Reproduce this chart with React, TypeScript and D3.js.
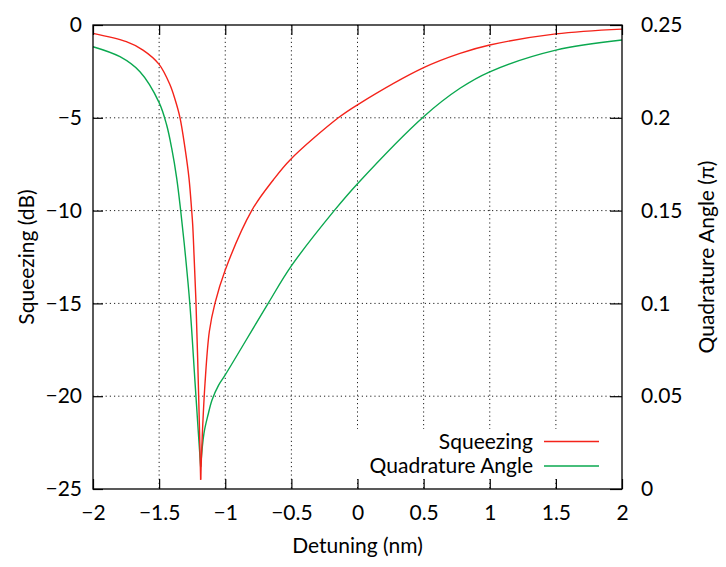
import React, { useEffect, useRef } from "react";
import * as d3 from "d3";

// squeezing (dB) against detuning (nm);
// the curve has a cusp at the minimum, so each side is its own branch
const sqzLeftDetuning = [
  -2.0, -1.748, -1.622, -1.5, -1.418, -1.38, -1.342, -1.304, -1.274, -1.254,
  -1.246, -1.236, -1.222, -1.201, -1.186,
];
const sqzLeftValues = [
  -0.45, -0.9, -1.35, -2.12, -3.22, -4.0, -5.0, -6.65, -8.26, -9.98, -10.78,
  -12.4, -14.8, -20.0, -24.5,
];
const sqzRightDetuning = [
  -1.186, -1.173, -1.153, -1.12, -1.078, -1.0, -0.8, -0.637, -0.51, -0.145,
  0.0, 0.5, 0.775, 1.0, 1.5, 2.0,
];
const sqzRightValues = [
  -24.5, -22.0, -19.3, -16.5, -15.0, -13.2, -10.0, -8.35, -7.27, -5.0, -4.3,
  -2.3, -1.53, -1.08, -0.48, -0.22,
];

// quadrature angle (pi) against detuning (nm)
const angLeftDetuning = [
  -2.0, -1.796, -1.645, -1.5, -1.443, -1.405, -1.367, -1.337, -1.3, -1.267,
  -1.229, -1.204, -1.186,
];
const angLeftValues = [
  0.2383, 0.2329, 0.2248, 0.2082, 0.1961, 0.1836, 0.1674, 0.15, 0.125, 0.099,
  0.058, 0.031, 0.012,
];
const angRightDetuning = [
  -1.186, -1.161, -1.13, -1.1, -1.05, -1.0, -0.68, -0.5, -0.17, 0.0, 0.5,
  0.775, 1.0, 1.5, 2.0,
];
const angRightValues = [
  0.012, 0.03, 0.04, 0.048, 0.056, 0.0615, 0.0995, 0.1202, 0.1505, 0.1645,
  0.2006, 0.2159, 0.2248, 0.2365, 0.2419,
];

const xTicks = [-2, -1.5, -1, -0.5, 0, 0.5, 1, 1.5, 2];
const yTicks = [0, -5, -10, -15, -20, -25];
const y2Ticks = [0, 0.05, 0.1, 0.15, 0.2, 0.25];

const seriesNames = ["Squeezing", "Quadrature Angle"];
const seriesColors = ["#f4231a", "#0aa84f"];

const FONT = "Lato, 'Open Sans', sans-serif";
const FONT_SIZE = 21;
const fmt = (v: number) => String(v).replace("-", "\u2212");

export default function App() {
  const ref = useRef<SVGSVGElement>(null);

  useEffect(() => {
    const width = 726;
    const height = 567;
    const margin = { top: 25, right: 104, bottom: 78, left: 93 };
    const innerWidth = width - margin.left - margin.right;
    const innerHeight = height - margin.top - margin.bottom;

    const svg = d3.select(ref.current);
    svg.selectAll("*").remove();

    const xScale = d3.scaleLinear().domain([-2, 2]).range([0, innerWidth]);
    const yScale = d3.scaleLinear().domain([-25, 0]).range([innerHeight, 0]);
    const y2Scale = d3.scaleLinear().domain([0, 0.25]).range([innerHeight, 0]);

    const g = svg
      .append("g")
      .attr("transform", `translate(${margin.left},${margin.top})`);

    // dotted grid
    const grid = g
      .append("g")
      .attr("stroke", "#222")
      .attr("stroke-width", 1)
      .attr("stroke-dasharray", "1.2,3");
    grid
      .selectAll("line.v")
      .data(xTicks.slice(1, -1))
      .enter()
      .append("line")
      .attr("x1", (d) => xScale(d))
      .attr("x2", (d) => xScale(d))
      .attr("y1", 0)
      .attr("y2", innerHeight);
    grid
      .selectAll("line.h")
      .data(yTicks.slice(1, -1))
      .enter()
      .append("line")
      .attr("x1", 0)
      .attr("x2", innerWidth)
      .attr("y1", (d) => yScale(d))
      .attr("y2", (d) => yScale(d));

    // curves
    const branch = (xs: number[], ys: number[], y: any, color: string) => {
      const line = d3
        .line<number>()
        .x((d, i) => xScale(xs[i]))
        .y((d) => y(d))
        .curve(d3.curveCatmullRom.alpha(0.5));
      g.append("path")
        .attr("d", line(ys))
        .attr("fill", "none")
        .attr("stroke", color)
        .attr("stroke-width", 1.4)
        .attr("stroke-linejoin", "round");
    };
    branch(angLeftDetuning, angLeftValues, y2Scale, seriesColors[1]);
    branch(angRightDetuning, angRightValues, y2Scale, seriesColors[1]);
    branch(sqzLeftDetuning, sqzLeftValues, yScale, seriesColors[0]);
    branch(sqzRightDetuning, sqzRightValues, yScale, seriesColors[0]);

    // key, with an opaque box behind it
    g.append("rect")
      .attr("x", 262)
      .attr("y", 404)
      .attr("width", innerWidth - 264)
      .attr("height", 50)
      .attr("fill", "white");
    seriesNames.forEach((name, i) => {
      const cy = 416.5 + i * 24.5;
      g.append("text")
        .attr("x", 440)
        .attr("y", cy)
        .attr("dy", "0.35em")
        .attr("text-anchor", "end")
        .attr("font-family", FONT)
        .attr("font-size", FONT_SIZE)
        .attr("fill", "black")
        .text(name);
      g.append("line")
        .attr("x1", 451)
        .attr("x2", 506)
        .attr("y1", cy)
        .attr("y2", cy)
        .attr("stroke", seriesColors[i])
        .attr("stroke-width", 1.4);
    });

    // axes, ticks pointing inward
    const styleAxis = (sel: any) => {
      sel.select(".domain").remove();
      sel.selectAll(".tick line").attr("stroke", "black").attr("stroke-width", 1.2);
      sel
        .selectAll("text")
        .attr("font-family", FONT)
        .attr("font-size", FONT_SIZE)
        .attr("fill", "black");
    };

    g.append("g")
      .attr("transform", `translate(0,${innerHeight})`)
      .call(d3.axisBottom(xScale).tickValues(xTicks).tickFormat(fmt as any).tickSize(-10).tickPadding(16))
      .call(styleAxis);
    g.append("g")
      .call(d3.axisTop(xScale).tickValues(xTicks).tickFormat(() => "").tickSize(-10))
      .call(styleAxis);
    g.append("g")
      .call(d3.axisLeft(yScale).tickValues(yTicks).tickFormat(fmt as any).tickSize(-10).tickPadding(11))
      .call(styleAxis);
    g.append("g")
      .attr("transform", `translate(${innerWidth},0)`)
      .call(d3.axisRight(y2Scale).tickValues(y2Ticks).tickFormat(fmt as any).tickSize(-12).tickPadding(19))
      .call(styleAxis);

    g.append("rect")
      .attr("width", innerWidth)
      .attr("height", innerHeight)
      .attr("fill", "none")
      .attr("stroke", "black")
      .attr("stroke-width", 1.3);

    // axis titles
    g.append("text")
      .attr("x", innerWidth / 2)
      .attr("y", innerHeight + 64)
      .attr("text-anchor", "middle")
      .attr("font-family", FONT)
      .attr("font-size", FONT_SIZE)
      .text("Detuning (nm)");
    g.append("text")
      .attr("transform", `rotate(-90)`)
      .attr("x", -232)
      .attr("y", -66)
      .attr("dy", "0.35em")
      .attr("text-anchor", "middle")
      .attr("font-family", FONT)
      .attr("font-size", FONT_SIZE)
      .text("Squeezing (dB)");
    g.append("text")
      .attr("transform", `rotate(-90)`)
      .attr("x", -232)
      .attr("y", innerWidth + 85)
      .attr("dy", "0.35em")
      .attr("text-anchor", "middle")
      .attr("font-family", FONT)
      .attr("font-size", FONT_SIZE)
      .text("Quadrature Angle (\u03c0)");
  }, []);

  return (
    <svg
      ref={ref}
      width={726}
      height={567}
      style={{ position: "absolute", left: 0, top: 0, background: "white" }}
    />
  );
}
